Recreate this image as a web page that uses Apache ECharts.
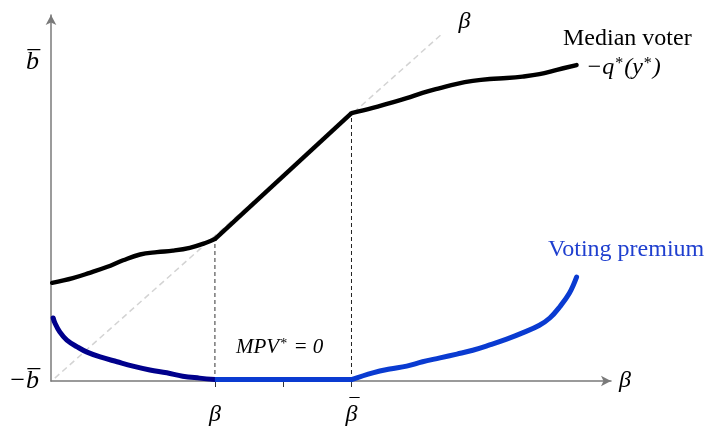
<!DOCTYPE html>
<html><head><meta charset="utf-8">
<script src="https://cdn.jsdelivr.net/npm/echarts@6/dist/echarts.min.js"></script>
<style>html,body{margin:0;padding:0;background:#fff}#c{width:713px;height:434px}</style>
</head><body><div id="c"></div>
<script>
// Conceptual values (x = beta, y = level measured from -b bar)
const betaLow = 3, betaHigh = 5.5, betaMid = 4.25;
const bBarLevel = 6.63;
const medianLeft = [[0.02,2.04],[0.40,2.14],[0.71,2.25],[1.02,2.37],[1.32,2.51],[1.63,2.63],[1.94,2.68],[2.23,2.71],[2.54,2.77],[2.85,2.88],[3,2.95]];
const medianMid = [[3,2.95],[5.5,5.57]];
const medianRight = [[5.5,5.57],[5.89,5.68],[6.20,5.78],[6.51,5.88],[6.80,5.99],[7.12,6.09],[7.43,6.18],[7.72,6.24],[8.03,6.28],[8.34,6.30],[8.63,6.33],[8.94,6.38],[9.26,6.47],[9.62,6.57]];
const premiumLeft = [[0.04,1.31],[0.07,1.21],[0.16,1.02],[0.29,0.85],[0.48,0.71],[0.66,0.60],[0.90,0.50],[1.21,0.40],[1.50,0.31],[1.81,0.23],[2.12,0.17],[2.41,0.10],[2.72,0.06],[3,0.03]];
const premiumFlat = [[3,0.03],[5.5,0.03]];
const premiumRight = [[5.5,0.03],[5.89,0.17],[6.20,0.25],[6.51,0.31],[6.80,0.40],[7.12,0.48],[7.43,0.56],[7.72,0.64],[8.03,0.75],[8.34,0.87],[8.63,1.00],[8.94,1.16],[9.13,1.31],[9.31,1.54],[9.49,1.83],[9.62,2.16]];
const diagonal = [[0.07,0.06],[7.13,7.19]];
const vLineLow = [[3,0],[3,2.95]];
const vLineHigh = [[5.5,0],[5.5,5.57]];
const xTickValues = [betaLow, betaMid, betaHigh];
const xLabelValues = [betaLow, betaHigh];
const yLabelValues = [0, bBarLevel];
const yLabelText = ['−b\u0305', 'b\u0305'];

const serif = "'Liberation Serif', 'DejaVu Serif', serif";
const chart = echarts.init(document.getElementById('c'));
const curve = (data, color, width) => ({type: 'line', data, smooth: 0.4, showSymbol: false,
  lineStyle: {color, width, cap: 'round', join: 'round'}, z: 3});
const mathRich = {
  i: {fontFamily: serif, fontStyle: 'italic', fontSize: 24, color: '#000'},
  s: {fontFamily: serif, fontSize: 16, color: '#000', verticalAlign: 'top', padding: [0, 1, 0, 1]},
  m: {fontFamily: serif, fontStyle: 'italic', fontSize: 21, color: '#000'},
  ms: {fontFamily: serif, fontSize: 14, color: '#000', verticalAlign: 'top', padding: [0, 1, 0, 1]}
};
chart.setOption({
  animation: false,
  grid: {left: 51, top: 15, width: 560, height: 366, containLabel: false, outerBoundsMode: 'none'},
  xAxis: {
    type: 'value', min: 0, max: 10.25,
    splitLine: {show: false},
    axisLine: {show: true, lineStyle: {color: '#7a7a7a', width: 1.5}, symbol: ['none', 'arrow'], symbolSize: [8, 10]},
    axisTick: {show: true, customValues: xTickValues, length: 6, lineStyle: {color: '#333', width: 1}},
    axisLabel: {show: true, customValues: xLabelValues,
      formatter: v => v === betaHigh ? '{o|¯}\n{b|β}' : '{o| }\n{b|β}', margin: 17,
      rich: {
        o: {fontFamily: serif, fontSize: 20, lineHeight: 9, verticalAlign: 'top', color: '#000', padding: [0, 0, 0, 6]},
        b: {fontFamily: serif, fontStyle: 'italic', fontSize: 24, lineHeight: 16, color: '#000'}
      }},
    name: 'β', nameLocation: 'end', nameGap: 8,
    nameTextStyle: {fontFamily: serif, fontStyle: 'italic', fontSize: 24, color: '#000', verticalAlign: 'middle'}
  },
  yAxis: {
    type: 'value', min: 0, max: 7.61,
    splitLine: {show: false},
    axisLine: {show: true, lineStyle: {color: '#7a7a7a', width: 1.5}, symbol: ['none', 'arrow'], symbolSize: [8, 10]},
    axisTick: {show: false},
    axisLabel: {show: true, customValues: yLabelValues, formatter: v => v === 0 ? yLabelText[0] : yLabelText[1], margin: 12,
      fontFamily: serif, fontStyle: 'italic', fontSize: 26, color: '#000'}
  },
  series: [
    {type: 'line', data: diagonal, showSymbol: false, lineStyle: {color: '#d3d3d3', width: 1.5, type: [6, 4]}, z: 1,
      endLabel: {show: true, formatter: 'β', fontFamily: serif, fontStyle: 'italic', fontSize: 24, color: '#000', offset: [10, -14]}},
    {type: 'line', data: vLineLow, showSymbol: false, lineStyle: {color: '#555', width: 1.2, type: [4, 3]}, z: 1},
    {type: 'line', data: vLineHigh, showSymbol: false, lineStyle: {color: '#222', width: 1, type: [4, 3]}, z: 1},
    curve(medianLeft, '#000', 4.4),
    {type: 'line', data: medianMid, showSymbol: false, lineStyle: {color: '#000', width: 4.4}, z: 3},
    curve(medianRight, '#000', 4.4),
    curve(premiumLeft, '#00008c', 5),
    {type: 'line', data: premiumFlat, showSymbol: false, lineStyle: {color: '#0a3bd1', width: 5}, z: 3},
    curve(premiumRight, '#0a3bd1', 5)
  ],
  graphic: [
    {type: 'text', left: 563, top: 27, style: {text: 'Median voter', fontFamily: serif, fontSize: 24, fill: '#000'}},
    {type: 'text', left: 586, top: 56, style: {text: '{i|−q}{s|*}{i|(y}{s|*}{i|)}', rich: mathRich}},
    {type: 'text', left: 548, top: 238, style: {text: 'Voting premium', fontFamily: serif, fontSize: 24, fill: '#1f3fcf'}},
    {type: 'text', left: 236, top: 337, style: {text: '{m|MPV}{ms|*}{m| = 0}', rich: mathRich}}
  ]
});
</script></body></html>
